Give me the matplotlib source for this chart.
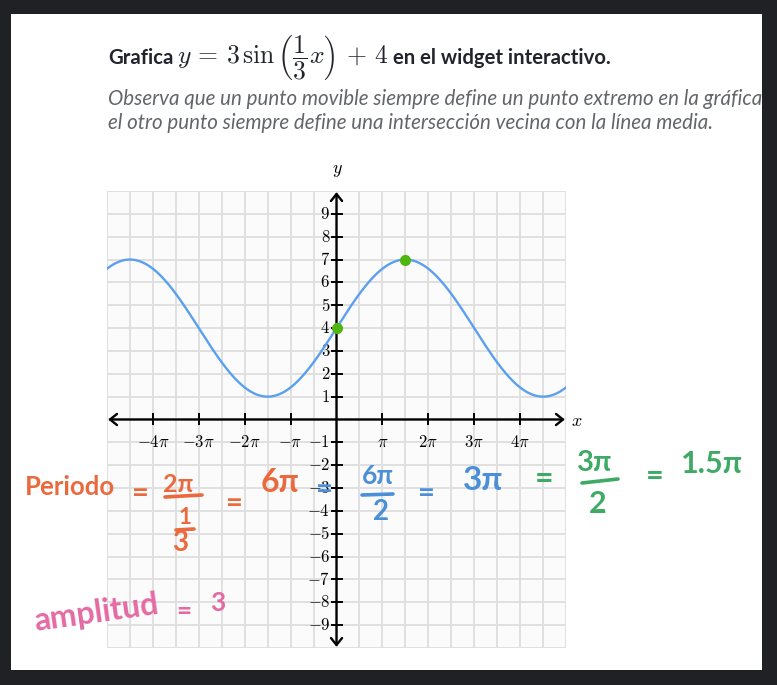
import matplotlib
matplotlib.use("Agg")
import matplotlib.pyplot as plt
import numpy as np
from matplotlib.lines import Line2D
from matplotlib.patches import Rectangle

plt.rcParams["font.family"] = ["Lato", "DejaVu Sans"]
plt.rcParams["mathtext.fontset"] = "cm"

W, H = 777, 685

# function shown in the widget: y = A sin(B x) + D
AMPLITUDE = 3
FREQ = 1 / 3
MIDLINE = 4

# the two movable points (x in units of pi, y)
POINT_X_PI = [0.0, 1.5]
POINT_Y = [4, 7]

X_TICK_PI = [-4, -3, -2, -1, 1, 2, 3, 4]
X_TICK_LABELS = [r"$-4\pi$", r"$-3\pi$", r"$-2\pi$", r"$-\pi$",
                 r"$\pi$", r"$2\pi$", r"$3\pi$", r"$4\pi$"]
Y_TICKS = [-9, -8, -7, -6, -5, -4, -3, -2, -1, 1, 2, 3, 4, 5, 6, 7, 8, 9]
Y_TICK_LABELS = [rf"${v}$" for v in Y_TICKS]

X_LIM_PI = 5
Y_LIM = 10

# handwritten notes: (text, x_px, y_px, color, size, rotation)
ORANGE = "#ea6a3d"
BLUE = "#4a8fd8"
GREEN = "#3faa66"
PINK = "#e46aa3"
NOTES = [
    ("Periodo", 70, 487, ORANGE, 18.5, 0),
    ("=", 140, 494, ORANGE, 21, 0),
    ("2π", 178, 485, ORANGE, 18, 0),
    ("1", 185, 518, ORANGE, 16, 0),
    ("3", 180, 543, ORANGE, 20, 0),
    ("=", 234, 504, ORANGE, 21, 0),
    ("6π", 280, 482, ORANGE, 23, 0),
    ("=", 324, 490, BLUE, 21, 0),
    ("6π", 378, 476, BLUE, 19, 0),
    ("2", 381, 512, BLUE, 20, 0),
    ("=", 426, 494, BLUE, 21, 0),
    ("3π", 483, 481, BLUE, 24, 0),
    ("=", 544, 479, GREEN, 23, 0),
    ("3π", 595, 463, GREEN, 21, 0),
    ("2", 598, 504, GREEN, 22, 0),
    ("=", 655, 476, GREEN, 22, 0),
    ("1.5π", 712, 464, GREEN, 22, 0),
    ("amplitud", 96, 613, PINK, 23, 8),
    ("=", 184, 611, PINK, 19, 0),
    ("3", 218, 603, PINK, 19, 0),
]
NOTE_BARS = [
    (165, 497, 202, 495, ORANGE),
    (176, 530, 194, 529, ORANGE),
    (362, 495, 393, 494, BLUE),
    (582, 483, 618, 479, GREEN),
]


def fx(x):
    return x / W


def fy(y):
    return 1 - y / H


fig = plt.figure(figsize=(W / 100, H / 100), dpi=100)
fig.patch.set_facecolor("#202124")
fig.patches.append(Rectangle((fx(11), fy(670)), (762 - 11) / W, (670 - 14) / H,
                             transform=fig.transFigure, facecolor="white",
                             edgecolor="none", zorder=-5))

# header
fig.text(fx(108), fy(64), "Grafica", fontsize=14.6, fontweight="bold",
         color="#21242c", va="baseline")
fig.text(fx(177), fy(64), r"$y\,=\,3\,\sin\left(\dfrac{1}{3}x\right)\,+\,4$", fontsize=18.5,
         color="#21242c", va="baseline")
fig.text(fx(393), fy(64), "en el widget interactivo.", fontsize=14.6,
         fontweight="bold", color="#21242c", va="baseline")
fig.text(fx(108), fy(105), "Observa que un punto movible siempre define un punto extremo en la gráfica",
         fontsize=14.8, style="italic", color="#626569", va="baseline")
fig.text(fx(108), fy(129), "el otro punto siempre define una intersección vecina con la línea media.",
         fontsize=14.8, style="italic", color="#626569", va="baseline")

# graph
ax = fig.add_axes([fx(107), fy(648), (566 - 107) / W, (648 - 191) / H])
ax.set_facecolor("#fbfbfb")
ax.set_xlim(-X_LIM_PI * np.pi, X_LIM_PI * np.pi)
ax.set_ylim(-Y_LIM, Y_LIM)
for s in ax.spines.values():
    s.set_visible(False)
ax.set_xticks([])
ax.set_yticks([])

for gx in np.arange(-X_LIM_PI, X_LIM_PI + 0.25, 0.5) * np.pi:
    ax.axvline(gx, color="#e0e0e0", lw=1.4, zorder=1)
for gy in np.arange(-Y_LIM, Y_LIM + 1):
    ax.axhline(gy, color="#e0e0e0", lw=1.4, zorder=1)

arrow = dict(arrowstyle="<->, head_length=0.5, head_width=0.4", lw=1.7,
             color="black", shrinkA=0, shrinkB=0)
ax.annotate("", xy=(X_LIM_PI * np.pi * 0.995, 0), xytext=(-X_LIM_PI * np.pi * 0.995, 0),
            arrowprops=arrow, annotation_clip=False, zorder=3)
ax.annotate("", xy=(0, Y_LIM * 0.995), xytext=(0, -Y_LIM * 0.995),
            arrowprops=arrow, annotation_clip=False, zorder=3)

xt = np.array(X_TICK_PI) * np.pi
ax.plot(xt, np.zeros_like(xt), ls="none", marker="|", ms=9, mew=1.4, color="black", zorder=3)
ax.plot(np.zeros(len(Y_TICKS)), Y_TICKS, ls="none", marker="_", ms=9, mew=1.4,
        color="black", zorder=3)
for v, lab in zip(xt, X_TICK_LABELS):
    ax.annotate(lab, (v, 0), xytext=(0, -16), textcoords="offset points",
                ha="center", va="center", fontsize=12, zorder=4)
for v, lab in zip(Y_TICKS, Y_TICK_LABELS):
    ax.annotate(lab, (0, v), xytext=(-4.5, 0), textcoords="offset points",
                ha="right", va="center", fontsize=12, zorder=4)

fig.text(fx(577), fy(421), r"$x$", fontsize=13, ha="center", va="center")
fig.text(fx(337), fy(171), r"$y$", fontsize=13, ha="center", va="center")

x = np.linspace(-X_LIM_PI * np.pi, X_LIM_PI * np.pi, 600)
ax.plot(x, AMPLITUDE * np.sin(FREQ * x) + MIDLINE, color="#5aa0ef", lw=1.7, zorder=5)
ax.plot(np.array(POINT_X_PI) * np.pi, POINT_Y, ls="none", marker="o", ms=7,
        color="#4fb50f", zorder=6, clip_on=False)

# handwritten notes on top
for text, xp, yp, col, size, rot in NOTES:
    fig.text(fx(xp), fy(yp), text, color=col, fontsize=size, fontweight="bold",
             ha="center", va="center", rotation=rot, zorder=8)
for x1, y1, x2, y2, col in NOTE_BARS:
    fig.add_artist(Line2D([fx(x1), fx(x2)], [fy(y1), fy(y2)], color=col, lw=2.6,
                          solid_capstyle="round", zorder=8))

# dark frame on the right cuts the long line
fig.patches.append(Rectangle((fx(762), 0), 1 - fx(762), 1, transform=fig.transFigure,
                             facecolor="#202124", edgecolor="none", zorder=20))

fig.savefig("out.png", dpi=100)
